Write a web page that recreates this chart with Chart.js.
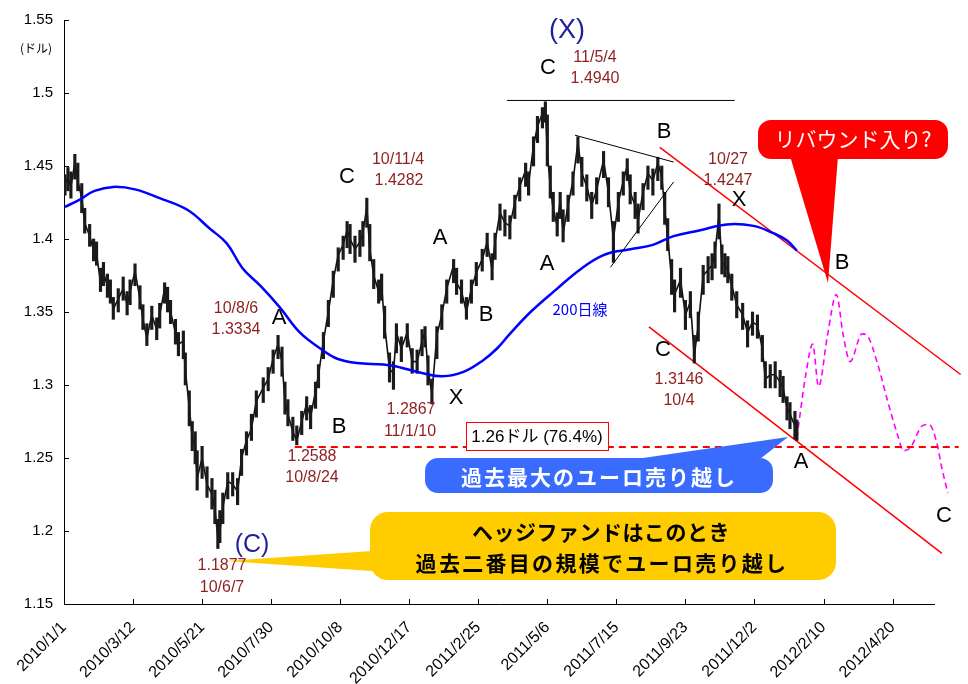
<!DOCTYPE html>
<html>
<head>
<meta charset="utf-8">
<script src="https://cdn.jsdelivr.net/npm/chart.js@4.4.4/dist/chart.umd.min.js"></script>
<style>
  html, body { margin: 0; padding: 0; background: #fff; }
  #wrap { width: 968px; height: 684px; position: relative; }
</style>
</head>
<body>
<div id="wrap"><canvas id="c"></canvas></div>
<script>
// EUR/USD daily range (2010/1 - 2012/1), 200-day MA, wave labels and a forecast path.
// x is calendar days since 2010/1/1.

const tickDays = [0, 70, 140, 210, 280, 350, 420, 490, 560, 630, 700, 770, 840];
const tickLabels = ['2010/1/1', '2010/3/12', '2010/5/21', '2010/7/30', '2010/10/8', '2010/12/17',
  '2011/2/25', '2011/5/6', '2011/7/15', '2011/9/23', '2011/12/2', '2012/2/10', '2012/4/20'];

// price: day, close, low, high
const days = [1, 4, 7, 11, 14, 18, 21, 26, 30, 33, 37, 40, 44, 47, 50, 55, 60, 64, 67, 72, 77, 80, 84, 89, 94, 97,
  102, 105, 108, 113, 116, 121, 123, 127, 130, 133, 135, 140, 145, 150, 153, 156, 158, 161, 166, 171, 176, 180,
  185, 190, 195, 202, 207, 212, 217, 221, 224, 227, 232, 236, 241, 246, 250, 255, 258, 263, 268, 273, 278, 283,
  287, 290, 295, 300, 303, 307, 310, 314, 319, 322, 325, 330, 334, 337, 342, 348, 353, 358, 363, 366, 369, 373,
  378, 383, 388, 395, 398, 403, 408, 413, 418, 424, 429, 434, 437, 442, 447, 452, 457, 462, 468, 471, 476, 480,
  485, 488, 490, 493, 496, 500, 503, 506, 511, 516, 521, 525, 530, 535, 540, 547, 552, 557, 562, 567, 571, 574,
  579, 582, 587, 592, 597, 602, 606, 609, 612, 616, 619, 625, 630, 635, 639, 643, 648, 653, 657, 660, 664, 667,
  670, 673, 677, 682, 688, 693, 698, 703, 708, 711, 716, 721, 726, 729, 733, 736, 741, 743];
const closes = [1.438, 1.442, 1.436, 1.452, 1.440, 1.428, 1.411, 1.402, 1.392, 1.390, 1.370, 1.377, 1.368, 1.364,
  1.352, 1.359, 1.366, 1.355, 1.364, 1.378, 1.359, 1.345, 1.332, 1.348, 1.338, 1.348, 1.366, 1.360, 1.350, 1.336,
  1.328, 1.330, 1.310, 1.285, 1.264, 1.258, 1.236, 1.250, 1.232, 1.225, 1.215, 1.195, 1.200, 1.216, 1.234, 1.232,
  1.227, 1.250, 1.262, 1.270, 1.289, 1.298, 1.304, 1.318, 1.328, 1.316, 1.289, 1.280, 1.268, 1.262, 1.275, 1.287,
  1.278, 1.296, 1.307, 1.330, 1.350, 1.372, 1.389, 1.396, 1.406, 1.400, 1.393, 1.398, 1.404, 1.422, 1.393, 1.375,
  1.364, 1.368, 1.341, 1.311, 1.308, 1.336, 1.325, 1.336, 1.316, 1.316, 1.330, 1.336, 1.311, 1.294, 1.334, 1.348,
  1.366, 1.382, 1.370, 1.364, 1.350, 1.366, 1.377, 1.386, 1.398, 1.379, 1.398, 1.418, 1.411, 1.409, 1.425, 1.436,
  1.447, 1.438, 1.464, 1.477, 1.486, 1.490, 1.459, 1.436, 1.420, 1.409, 1.427, 1.404, 1.423, 1.440, 1.466, 1.445,
  1.436, 1.423, 1.434, 1.454, 1.432, 1.400, 1.425, 1.440, 1.450, 1.432, 1.423, 1.413, 1.432, 1.445, 1.440, 1.452,
  1.443, 1.420, 1.402, 1.372, 1.362, 1.372, 1.348, 1.357, 1.320, 1.341, 1.375, 1.379, 1.382, 1.391, 1.416, 1.384,
  1.382, 1.379, 1.368, 1.355, 1.348, 1.336, 1.343, 1.341, 1.325, 1.304, 1.307, 1.307, 1.302, 1.298, 1.284, 1.280,
  1.272, 1.266];
const lows = [1.430, 1.433, 1.428, 1.441, 1.433, 1.418, 1.404, 1.395, 1.385, 1.382, 1.364, 1.368, 1.360, 1.356,
  1.345, 1.350, 1.358, 1.348, 1.355, 1.368, 1.352, 1.338, 1.327, 1.338, 1.331, 1.339, 1.356, 1.350, 1.342, 1.328,
  1.320, 1.318, 1.300, 1.272, 1.255, 1.246, 1.228, 1.236, 1.223, 1.215, 1.205, 1.188, 1.192, 1.205, 1.222, 1.224,
  1.218, 1.238, 1.252, 1.262, 1.278, 1.288, 1.296, 1.308, 1.318, 1.306, 1.280, 1.272, 1.262, 1.259, 1.266, 1.276,
  1.270, 1.284, 1.298, 1.318, 1.340, 1.360, 1.378, 1.386, 1.394, 1.390, 1.384, 1.388, 1.395, 1.408, 1.385, 1.366,
  1.356, 1.358, 1.332, 1.302, 1.297, 1.322, 1.316, 1.326, 1.308, 1.308, 1.320, 1.326, 1.300, 1.287, 1.318, 1.338,
  1.356, 1.370, 1.362, 1.356, 1.345, 1.356, 1.368, 1.378, 1.388, 1.372, 1.386, 1.406, 1.402, 1.400, 1.414, 1.426,
  1.436, 1.430, 1.450, 1.466, 1.476, 1.480, 1.450, 1.428, 1.412, 1.402, 1.414, 1.398, 1.412, 1.430, 1.452, 1.436,
  1.426, 1.414, 1.424, 1.442, 1.422, 1.384, 1.412, 1.430, 1.440, 1.424, 1.414, 1.404, 1.420, 1.434, 1.430, 1.440,
  1.434, 1.410, 1.392, 1.362, 1.350, 1.360, 1.338, 1.346, 1.315, 1.330, 1.362, 1.370, 1.372, 1.380, 1.400, 1.376,
  1.374, 1.370, 1.358, 1.346, 1.338, 1.326, 1.334, 1.332, 1.316, 1.298, 1.298, 1.298, 1.292, 1.288, 1.276, 1.270,
  1.263, 1.262];
const highs = [1.444, 1.449, 1.446, 1.458, 1.452, 1.438, 1.421, 1.410, 1.400, 1.398, 1.380, 1.384, 1.376, 1.372,
  1.360, 1.366, 1.374, 1.364, 1.372, 1.383, 1.368, 1.355, 1.342, 1.354, 1.346, 1.356, 1.370, 1.367, 1.358, 1.345,
  1.336, 1.337, 1.322, 1.296, 1.275, 1.268, 1.255, 1.258, 1.244, 1.236, 1.228, 1.208, 1.214, 1.226, 1.240, 1.240,
  1.236, 1.256, 1.268, 1.280, 1.296, 1.305, 1.312, 1.324, 1.334, 1.326, 1.302, 1.290, 1.278, 1.272, 1.282, 1.292,
  1.286, 1.302, 1.314, 1.336, 1.358, 1.378, 1.394, 1.402, 1.412, 1.410, 1.402, 1.406, 1.412, 1.428, 1.410, 1.386,
  1.372, 1.376, 1.354, 1.322, 1.316, 1.342, 1.333, 1.342, 1.325, 1.324, 1.338, 1.340, 1.320, 1.304, 1.340, 1.355,
  1.372, 1.386, 1.380, 1.372, 1.360, 1.372, 1.384, 1.393, 1.404, 1.390, 1.404, 1.424, 1.420, 1.416, 1.430, 1.442,
  1.452, 1.446, 1.470, 1.484, 1.490, 1.494, 1.485, 1.450, 1.432, 1.418, 1.432, 1.420, 1.430, 1.446, 1.470, 1.456,
  1.444, 1.432, 1.442, 1.460, 1.442, 1.412, 1.432, 1.446, 1.455, 1.444, 1.432, 1.424, 1.438, 1.450, 1.448, 1.456,
  1.450, 1.432, 1.414, 1.386, 1.372, 1.380, 1.358, 1.364, 1.334, 1.350, 1.382, 1.388, 1.390, 1.398, 1.424, 1.396,
  1.390, 1.388, 1.376, 1.364, 1.356, 1.344, 1.350, 1.348, 1.334, 1.316, 1.314, 1.316, 1.310, 1.306, 1.292, 1.288,
  1.282, 1.276];

// 200-day moving average
const maDays = [1, 16, 31, 50, 72, 97, 125, 148, 165, 181, 199, 219, 239, 262, 277, 297, 324, 341, 364, 384, 405,
  425, 439, 452, 473, 500, 523, 547, 574, 597, 618, 645, 672, 699, 719, 733, 743];
const maVals = [1.422, 1.427, 1.433, 1.4357, 1.434, 1.428, 1.420, 1.407, 1.397, 1.380, 1.368, 1.353, 1.336, 1.324,
  1.318, 1.315, 1.314, 1.312, 1.308, 1.306, 1.309, 1.317, 1.325, 1.335, 1.350, 1.366, 1.379, 1.389, 1.393, 1.396,
  1.402, 1.406, 1.410, 1.409, 1.404, 1.399, 1.392];

// forecast path (magenta dashed)
const fcDays = [743, 752, 759, 765, 774, 783, 790, 797, 809, 814, 825, 835, 845, 851, 858, 870, 877, 885, 890, 896];
const fcVals = [1.264, 1.307, 1.328, 1.299, 1.334, 1.362, 1.334, 1.316, 1.335, 1.334, 1.314, 1.289, 1.266, 1.255,
  1.257, 1.272, 1.273, 1.260, 1.243, 1.226];

// trend lines: [startDay, startVal, endDay, endVal]
const upperChannel = [604, 1.4627, 909, 1.3072];
const lowerChannel = [593, 1.3398, 890, 1.1847];
const triTop = [518, 1.4711, 618, 1.4527];
const triBottom = [554, 1.3806, 618, 1.4391];
const peakLine = [449, 1.4949, 680, 1.4949];
const levelLine = [234, 1.2575, 907, 1.2575];

const X_MIN = 0;
const X_MAX = 882;

const FONT = '"Liberation Sans", Arial, "Noto Sans CJK JP", sans-serif';
const JP = '"Noto Sans CJK JP", "Liberation Sans", sans-serif';
const DARKRED = '#8E1F1F';
const NAVY = '#1F1F99';

function seg(s) { return [{ x: s[0], y: s[1] }, { x: s[2], y: s[3] }]; }
function lineDs(data, color, width, extra) {
  return Object.assign({ type: 'line', data, borderColor: color, borderWidth: width, pointRadius: 0,
    fill: false, tension: 0, clip: false }, extra || {});
}

function text(ctx, s, x, y, font, color, spacing) {
  ctx.font = font;
  ctx.fillStyle = color;
  ctx.textAlign = 'center';
  ctx.textBaseline = 'middle';
  ctx.letterSpacing = spacing ? spacing + 'px' : '0px';
  ctx.fillText(s, x, y);
  ctx.letterSpacing = '0px';
}

// inward tick marks on both axes
const inwardTicks = {
  id: 'inwardTicks',
  afterDraw(chart) {
    const { ctx, chartArea, scales: { x, y } } = chart;
    ctx.save();
    ctx.strokeStyle = '#000';
    ctx.lineWidth = 1;
    ctx.beginPath();
    x.ticks.forEach((t) => {
      const px = Math.round(x.getPixelForValue(t.value)) + 0.5;
      ctx.moveTo(px, chartArea.bottom); ctx.lineTo(px, chartArea.bottom - 5);
    });
    y.ticks.forEach((t) => {
      const py = Math.round(y.getPixelForValue(t.value)) + 0.5;
      ctx.moveTo(chartArea.left, py); ctx.lineTo(chartArea.left + 5, py);
    });
    ctx.stroke();
    ctx.restore();
  },
};

// wave labels, price notes and the three callouts
const notes = {
  id: 'notes',
  afterDatasetsDraw(chart) {
    const { ctx } = chart;
    ctx.save();

    // red callout
    ctx.fillStyle = '#FF0000';
    ctx.beginPath();
    ctx.roundRect(758, 120, 190, 39, 13);
    ctx.fill();
    ctx.beginPath();
    ctx.moveTo(790, 156); ctx.lineTo(838, 156); ctx.lineTo(828, 283); ctx.closePath();
    ctx.fill();
    text(ctx, 'リバウンド入り?', 853, 139, '21px ' + JP, '#fff');

    // blue callout
    ctx.fillStyle = '#3A6BFF';
    ctx.beginPath();
    ctx.roundRect(425, 458, 348, 35, 13);
    ctx.fill();
    ctx.beginPath();
    ctx.moveTo(636, 459); ctx.lineTo(760, 459); ctx.lineTo(788, 437); ctx.closePath();
    ctx.fill();
    text(ctx, '過去最大のユーロ売り越し', 599, 477, 'bold 21px ' + JP, '#fff', 2);

    // yellow callout
    ctx.fillStyle = '#FFCC00';
    ctx.beginPath();
    ctx.roundRect(370, 512, 466, 68, 18);
    ctx.fill();
    ctx.beginPath();
    ctx.moveTo(372, 551); ctx.lineTo(372, 571); ctx.lineTo(226, 561); ctx.closePath();
    ctx.fill();
    text(ctx, 'ヘッジファンドはこのとき', 601, 532, 'bold 21px ' + JP, '#000', 0.5);
    text(ctx, '過去二番目の規模でユーロ売り越し', 602, 563, 'bold 21px ' + JP, '#000', 2.3);

    // level box
    ctx.fillStyle = '#fff';
    ctx.strokeStyle = '#FF0000';
    ctx.lineWidth = 1;
    ctx.fillRect(466, 422, 143, 29);
    ctx.strokeRect(466.5, 422.5, 142, 28);
    text(ctx, '1.26ドル (76.4%)', 537, 437, '17px ' + FONT, '#000');

    // wave letters
    const letters = [['C', 548, 68], ['B', 664, 132], ['X', 739, 200], ['C', 347, 177], ['A', 440, 238],
      ['A', 547, 264], ['B', 486, 315], ['A', 279, 318], ['C', 663, 350], ['B', 842, 263], ['X', 456, 398],
      ['B', 339, 427], ['A', 801, 462], ['C', 944, 516]];
    letters.forEach(([s, x, y]) => text(ctx, s, x, y, '22px ' + FONT, '#000'));
    text(ctx, '(X)', 567, 31, '27px ' + FONT, NAVY);
    text(ctx, '(C)', 252, 545, '25px ' + FONT, NAVY);

    // date / price notes
    const red = [['11/5/4', 595, 58], ['1.4940', 595, 79], ['10/27', 728, 160], ['1.4247', 728, 181],
      ['10/11/4', 398, 160], ['1.4282', 399, 181], ['10/8/6', 236, 309], ['1.3334', 236, 330],
      ['1.3146', 679, 380], ['10/4', 679, 401], ['1.2867', 411, 410], ['11/1/10', 410, 432],
      ['1.2588', 312, 457], ['10/8/24', 312, 478], ['1.1877', 222, 566], ['10/6/7', 222, 588]];
    red.forEach(([s, x, y]) => text(ctx, s, x, y, '16px ' + FONT, DARKRED));
    text(ctx, '200日線', 580, 309, '15px ' + JP, '#0000FF');
    text(ctx, '(ドル)', 36, 48, '12px ' + JP, '#000');

    ctx.restore();
  },
};

new Chart(document.getElementById('c'), {
  type: 'line',
  data: {
    datasets: [
      lineDs(seg(levelLine), '#FF0000', 2, { borderDash: [7, 5] }),
      lineDs(seg(peakLine), '#000', 1),
      lineDs(seg(triTop), '#000', 1),
      lineDs(seg(triBottom), '#000', 1),
      lineDs(maDays.map((d, i) => ({ x: d, y: maVals[i] })), '#0000FF', 2.5, { tension: 0.4 }),
      {
        type: 'bar',
        data: days.map((d, i) => ({ x: d, y: [lows[i], highs[i]] })),
        backgroundColor: '#1a1a1a',
        borderWidth: 0,
        barThickness: 2.5,
        grouped: false,
      },
      lineDs(days.map((d, i) => ({ x: d, y: closes[i] })), '#111', 1.6),
      lineDs(seg(upperChannel), '#FF0000', 1.5),
      lineDs(seg(lowerChannel), '#FF0000', 1.5),
      lineDs(fcDays.map((d, i) => ({ x: d, y: fcVals[i] })), '#FF00FF', 1.6,
        { borderDash: [6, 4], cubicInterpolationMode: 'monotone' }),
    ],
  },
  options: {
    responsive: true,
    maintainAspectRatio: false,
    animation: false,
    layout: { padding: { top: 16, right: 34, left: 0, bottom: 0 } },
    plugins: { legend: { display: false }, tooltip: { enabled: false } },
    scales: {
      x: {
        type: 'linear',
        bounds: 'data',
        offset: false,
        grid: { display: false, drawTicks: false },
        border: { display: true, color: '#000', width: 1 },
        // range set here (not via min/max) so lines past the axis end are still drawn
        afterDataLimits(scale) { scale.min = X_MIN; scale.max = X_MAX; },
        afterBuildTicks(scale) { scale.ticks = tickDays.map((v) => ({ value: v })); },
        afterFit(scale) { scale.height = 80; },
        ticks: {
          autoSkip: false,
          minRotation: 45,
          maxRotation: 45,
          padding: 14,
          color: '#000',
          font: { family: FONT, size: 16 },
          callback(value) { const i = tickDays.indexOf(value); return i >= 0 ? tickLabels[i] : ''; },
        },
      },
      y: {
        min: 1.15,
        max: 1.55,
        grid: { display: false, drawTicks: false },
        border: { display: true, color: '#000', width: 1 },
        afterFit(scale) { scale.width = 64; },
        ticks: {
          stepSize: 0.05,
          padding: 11,
          color: '#000',
          font: { family: FONT, size: 15 },
          callback(value) { return String(Number(value.toFixed(2))); },
        },
      },
    },
  },
  plugins: [inwardTicks, notes],
});
</script>
</body>
</html>
